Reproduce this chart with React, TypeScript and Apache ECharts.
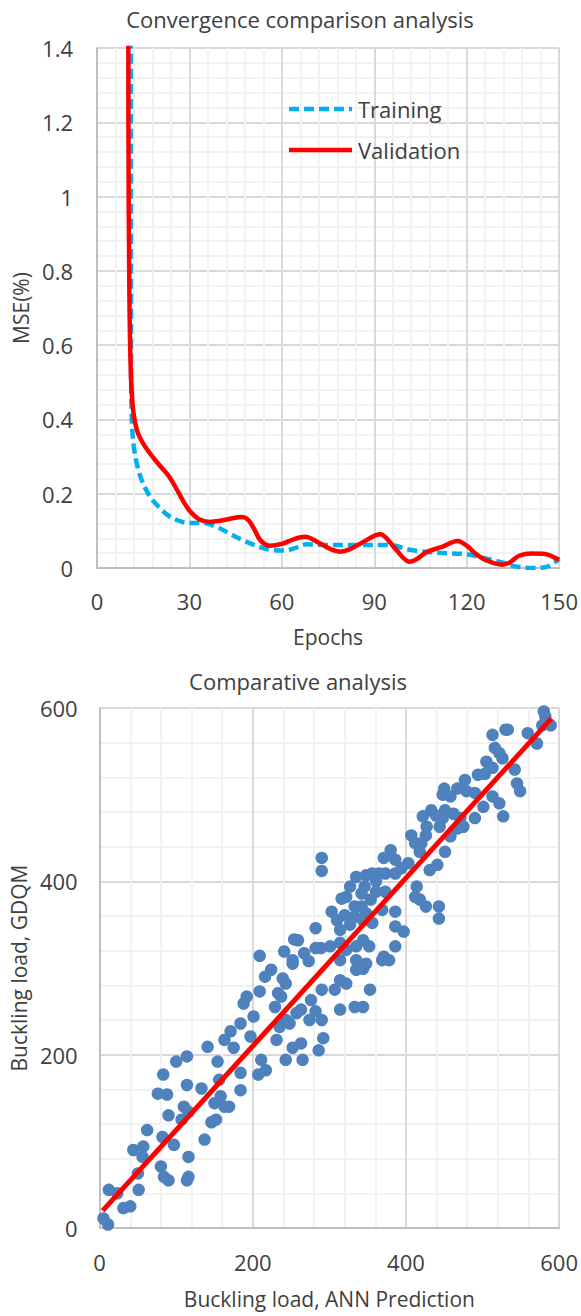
import React, { useEffect, useRef } from "react";
import * as echarts from "echarts";

// ---------- Convergence chart data (epoch, MSE %) ----------
const trainingCurve: [number, number][] = [
  [10.95, 3.0], [11.0, 0.9], [11.05, 0.55], [11.15, 0.45], [11.4, 0.38], [11.9, 0.33],
  [12.9, 0.282], [14.5, 0.237], [17.2, 0.192], [20, 0.165], [23.7, 0.138], [27.4, 0.125],
  [30, 0.121], [34.4, 0.121], [39, 0.11], [43, 0.093], [47.3, 0.075], [52.7, 0.057],
  [57, 0.048], [61, 0.047], [64, 0.053], [68, 0.064], [75, 0.062], [85, 0.062],
  [95, 0.062], [101.5, 0.049], [110, 0.041], [120, 0.037], [126, 0.026], [132.5, 0.013],
  [136, 0.004], [141, 0.0], [145.5, 0.002], [150, 0.024],
];

const validationCurve: [number, number][] = [
  [10.0, 3.0], [10.2, 1.2], [10.5, 0.75], [11.0, 0.52], [11.8, 0.42], [13, 0.37],
  [15, 0.335], [18, 0.3], [21, 0.27], [23.5, 0.245], [26, 0.21], [28, 0.18],
  [30, 0.155], [33, 0.132], [36.5, 0.124], [40, 0.127], [44, 0.134], [47, 0.137],
  [49, 0.13], [51, 0.105], [53, 0.075], [56, 0.06], [60, 0.065], [64, 0.078],
  [67.5, 0.084], [72, 0.068], [76, 0.05], [79, 0.044], [82, 0.05], [86, 0.068],
  [92, 0.091], [94, 0.08], [97, 0.05], [101.5, 0.017], [104, 0.025], [107, 0.043],
  [112, 0.057], [117, 0.073], [120, 0.06], [123, 0.038], [126, 0.022], [131.5, 0.009],
  [134, 0.015], [137, 0.033], [141, 0.039], [145.5, 0.038], [148, 0.03], [150, 0.022],
];

const legendNames = ["Training", "Validation"];

// ---------- Comparative analysis data (ANN prediction, GDQM) ----------
const comparativeLow: [number, number][] = [
  [5, 11], [11, 4], [12, 44], [23, 40], [31, 23], [40, 25], [51, 44], [50, 63], [44, 90],
  [57, 94], [56, 82], [62, 113], [80, 71], [90, 55], [84, 59], [82, 105], [97, 96], [90, 130],
  [76, 155], [88, 154], [83, 177], [100, 192], [114, 198], [114, 165], [110, 140], [116, 134],
  [107, 125], [116, 82], [114, 55], [116, 59], [137, 102], [141, 209], [133, 161], [146, 122],
  [152, 125], [150, 144], [156, 171], [154, 192], [163, 140], [169, 140], [158, 152], [171, 227],
  [163, 217], [175, 208], [184, 179], [184, 159], [188, 259], [192, 267], [184, 236], [201, 244],
  [197, 221], [209, 273], [207, 177], [211, 194], [217, 182], [216, 290], [231, 217], [229, 255],
  [235, 232], [237, 267], [239, 288], [243, 282], [248, 236], [243, 194], [252, 208], [252, 305],
  [224, 298], [233, 271], [257, 248], [243, 240],
];

const comparativeMid: [number, number][] = [
  [263, 252], [274, 240], [263, 213], [265, 194], [286, 205], [292, 219], [290, 240], [282, 250],
  [276, 263], [290, 275], [307, 275], [314, 286], [322, 282], [314, 252], [333, 255], [344, 255],
  [353, 275], [335, 298], [344, 299], [369, 309], [378, 309],
  [209, 314], [241, 319], [254, 333], [252, 309],
];

const comparativeHigh: [number, number][] = [
  [513, 569], [530, 575], [516, 554], [522, 548], [526, 542], [505, 538], [513, 531], [503, 524],
  [494, 523], [477, 517], [467, 507], [450, 507], [448, 500], [458, 498], [479, 504], [490, 502],
  [513, 498], [522, 490], [501, 486], [490, 473], [527, 475], [471, 473], [462, 478], [475, 463],
  [467, 461], [451, 482], [448, 473], [439, 476], [433, 482], [422, 475], [427, 463], [444, 463],
  [458, 452], [451, 434], [441, 419], [431, 413], [407, 453], [412, 444], [418, 434], [426, 453],
  [420, 444], [414, 394], [412, 382], [418, 379], [426, 371], [443, 371], [443, 357], [403, 421],
  [394, 415], [380, 436], [371, 427], [386, 425], [365, 409], [373, 409], [386, 409], [356, 409],
  [348, 407], [335, 405], [327, 394], [346, 394], [361, 400], [373, 388], [361, 388], [354, 379],
  [342, 386], [322, 382], [316, 380], [333, 371], [342, 371], [348, 363], [369, 367], [386, 365],
  [303, 365], [310, 355], [320, 361], [333, 359], [344, 355], [356, 352], [327, 350], [314, 344],
  [282, 346], [290, 427], [290, 412], [386, 348], [397, 342], [386, 325], [371, 313], [352, 325],
  [344, 332], [335, 325], [322, 321], [314, 329], [301, 325], [289, 323], [282, 323], [267, 317],
  [259, 332], [335, 309], [348, 305], [314, 309], [273, 308],
  [580, 602], [580, 596], [582, 590], [589, 580], [578, 580], [559, 571], [571, 559], [533, 575],
  [542, 529], [545, 513], [549, 504],
];

const fitLine: [number, number][] = [[4, 20], [590, 588]];

const FONT = "Open Sans";
const TEXT = "#404040";
const BLUE_LINE = "#00B0F0";
const RED = "#FF0000";
const DASH = [10, 5];

function axisCommon(extra: any) {
  return {
    type: "value",
    axisLine: { show: true, lineStyle: { color: "#BFBFBF", width: 2 } },
    axisTick: { show: false },
    axisLabel: { fontSize: 22, color: TEXT, fontFamily: FONT },
    splitLine: { show: true, lineStyle: { color: "#D9D9D9", width: 2 } },
    minorTick: { show: false, splitNumber: 5 },
    minorSplitLine: { show: true, lineStyle: { color: "#F2F2F2", width: 2 } },
    nameLocation: "middle",
    nameTextStyle: { fontSize: 21, color: TEXT, fontFamily: FONT },
    ...extra,
  };
}

export default function App() {
  const ref = useRef<HTMLDivElement>(null);

  useEffect(() => {
    if (!ref.current) return;
    const chart = echarts.init(ref.current, undefined, { renderer: "svg" });
    const legendY = [109, 150];
    const legendColors = [BLUE_LINE, RED];
    const legendGraphics: any[] = [];
    legendNames.forEach((name, i) => {
      legendGraphics.push({
        type: "line",
        shape: { x1: 289, y1: legendY[i], x2: 352, y2: legendY[i] },
        style: {
          stroke: legendColors[i],
          lineWidth: 4.5,
          lineDash: i === 0 ? DASH : null,
        },
        z: 10,
      });
      legendGraphics.push({
        type: "text",
        x: 358,
        y: legendY[i],
        style: {
          text: name,
          fontSize: 22,
          fontFamily: FONT,
          fill: TEXT,
          verticalAlign: "middle",
          align: "left",
        },
        z: 10,
      });
    });

    chart.setOption({
      animation: false,
      backgroundColor: "#ffffff",
      textStyle: { fontFamily: FONT },
      title: [
        {
          text: "Convergence comparison analysis",
          left: 295,
          top: 3,
          textAlign: "center",
          textStyle: { fontSize: 22, fontWeight: "normal", color: TEXT, fontFamily: FONT },
        },
        {
          text: "Comparative analysis",
          left: 293,
          top: 665,
          textAlign: "center",
          textStyle: { fontSize: 22, fontWeight: "normal", color: TEXT, fontFamily: FONT },
        },
      ],
      graphic: legendGraphics,
      grid: [
        { left: 97, top: 48, width: 465, height: 520 },
        { left: 91, top: 708, width: 471, height: 520 },
      ],
      xAxis: [
        axisCommon({
          gridIndex: 0, min: 0, max: 150, interval: 30, name: "Epochs", nameGap: 58,
          axisLabel: { fontSize: 22, color: TEXT, fontFamily: FONT, margin: 22 },
        }),
        axisCommon({
          gridIndex: 1, min: 0, max: 600, interval: 200, name: "Buckling load, ANN Prediction", nameGap: 60,
          axisLabel: { fontSize: 22, color: TEXT, fontFamily: FONT, margin: 23 },
        }),
      ],
      yAxis: [
        axisCommon({
          gridIndex: 0, min: 0, max: 1.4, interval: 0.2, name: "MSE(%)", nameGap: 64,
          axisLabel: { fontSize: 22, color: TEXT, fontFamily: FONT, margin: 24 },
        }),
        axisCommon({
          gridIndex: 1, min: 0, max: 600, interval: 200, name: "Buckling load, GDQM", nameGap: 66,
          axisLabel: { fontSize: 22, color: TEXT, fontFamily: FONT, margin: 22 },
        }),
      ],
      series: [
        {
          name: legendNames[0],
          type: "line",
          xAxisIndex: 0,
          yAxisIndex: 0,
          data: trainingCurve,
          symbol: "none",
          smooth: 0.35,
          color: BLUE_LINE,
          lineStyle: { color: BLUE_LINE, width: 4.5, type: DASH },
          z: 3,
        },
        {
          name: legendNames[1],
          type: "line",
          xAxisIndex: 0,
          yAxisIndex: 0,
          data: validationCurve,
          symbol: "none",
          smooth: 0.35,
          color: RED,
          lineStyle: { color: RED, width: 4.5 },
          z: 4,
        },
        {
          name: "Buckling load",
          type: "scatter",
          xAxisIndex: 1,
          yAxisIndex: 1,
          data: [...comparativeLow, ...comparativeMid, ...comparativeHigh],
          symbolSize: 12.5,
          itemStyle: { color: "#4F81BD", opacity: 1 },
          z: 3,
        },
        {
          name: "Fit",
          type: "line",
          xAxisIndex: 1,
          yAxisIndex: 1,
          data: fitLine,
          symbol: "none",
          lineStyle: { color: RED, width: 5 },
          z: 4,
        },
      ],
    });
    return () => chart.dispose();
  }, []);

  return (
    <div
      ref={ref}
      style={{ position: "absolute", left: 0, top: 0, width: 581, height: 1316, background: "#fff" }}
    />
  );
}
